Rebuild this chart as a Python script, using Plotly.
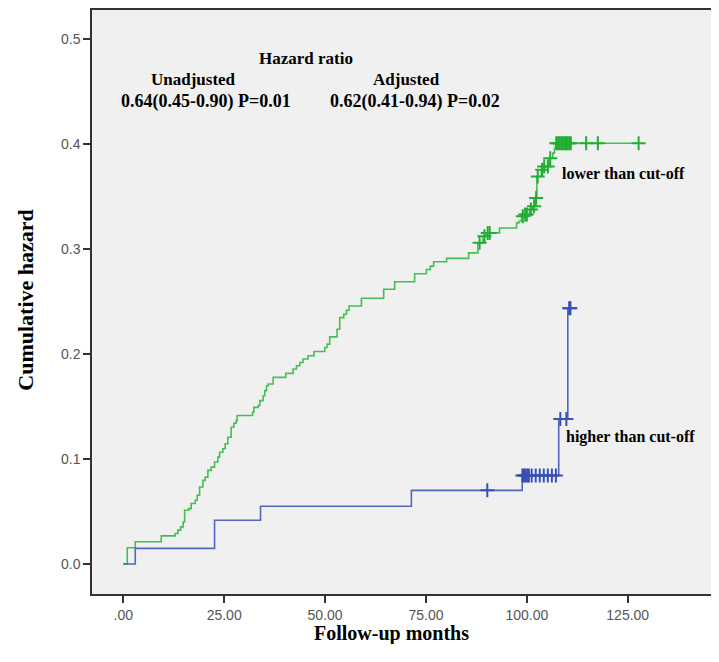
import numpy as np
import plotly.graph_objects as go

# ---------------- data ----------------
# lower than cut-off (green): event times (months) and cumulative hazard after each event
low_times = [0.99, 2.97, 9.41, 12.87, 13.54, 14.21, 14.85, 15.20, 16.19, 16.83, 17.82, 18.32,
             18.91, 19.73, 20.30, 20.96, 21.78, 22.62, 23.44, 23.86, 24.68, 25.25, 25.92, 26.73,
             27.40, 27.97, 28.22, 32.03, 32.35, 33.42, 33.84, 34.65, 35.07, 35.50, 35.89, 37.13,
             40.27, 42.08, 42.92, 43.74, 44.55, 45.79, 47.28, 49.93, 50.50, 51.16, 52.97, 53.64,
             54.63, 55.30, 55.94, 59.01, 64.53, 67.25, 72.20, 75.10, 76.09, 76.91, 80.12, 85.57,
             87.87, 89.11, 89.95, 93.24, 97.45, 98.02, 98.69, 99.43, 100.67, 101.34, 102.15,
             102.48, 103.56, 103.96, 105.62, 106.44, 106.86, 107.10]
low_hazard = [0.0155, 0.0212, 0.0268, 0.0291, 0.0323, 0.0354, 0.0401, 0.0512, 0.0528, 0.0576,
              0.0607, 0.0655, 0.0733, 0.0797, 0.0828, 0.0892, 0.0923, 0.0971, 0.1018, 0.1065,
              0.1098, 0.1145, 0.1208, 0.1303, 0.1341, 0.1366, 0.1414, 0.1445, 0.1492, 0.1509,
              0.1556, 0.1603, 0.1651, 0.1698, 0.1714, 0.1777, 0.1815, 0.1857, 0.1888, 0.1919,
              0.1952, 0.1983, 0.2024, 0.2062, 0.2094, 0.2163, 0.2236, 0.2346, 0.2379, 0.2417,
              0.2457, 0.2530, 0.2616, 0.2688, 0.2764, 0.2805, 0.2837, 0.2878, 0.2910, 0.2963,
              0.3058, 0.3121, 0.3153, 0.3200, 0.3248, 0.3264, 0.3311, 0.3327, 0.3375, 0.3406,
              0.3485, 0.3690, 0.3754, 0.3786, 0.3864, 0.3912, 0.3959, 0.4007]
low_end = 127.7
low_censored = [88.3, 89.5, 90.3, 90.8, 99.0, 99.6, 100.0, 101.0, 101.8, 102.3, 102.7, 103.8,
                104.3, 105.2, 105.8, 107.3, 107.7, 108.1, 108.5, 108.9, 109.3, 109.7, 110.1,
                110.5, 110.9, 114.7, 117.6, 127.7]

# higher than cut-off (blue)
high_times = [2.97, 22.62, 34.01, 71.39, 98.86, 107.9, 110.15]
high_hazard = [0.0149, 0.0417, 0.0550, 0.0702, 0.0844, 0.1382, 0.2435]
high_end = 110.8
high_censored = [90.2, 98.9, 99.3, 99.7, 100.1, 100.5, 101.2, 102.2, 103.2, 104.2, 105.2,
                 106.2, 107.2, 108.3, 109.8, 110.5, 110.8]

x_tickvals = [0, 25, 50, 75, 100, 125]
x_ticktext = [".00", "25.00", "50.00", "75.00", "100.00", "125.00"]
y_tickvals = [0.0, 0.1, 0.2, 0.3, 0.4, 0.5]
y_ticktext = ["0.0", "0.1", "0.2", "0.3", "0.4", "0.5"]

GREEN = "#45c050"
GREEN_DARK = "#22ad35"
BLUE = "#5066bf"
BLUE_DARK = "#3850b3"


def step_series(times, hazard, end):
    xs = [0.0] + list(times) + [end]
    ys = [0.0] + list(hazard) + [hazard[-1]]
    return xs, ys


def level_at(times, hazard, t):
    idx = np.searchsorted(np.array(times), np.array(t), side="right") - 1
    h = np.array([0.0] + list(hazard))
    return h[idx + 1]


fig = go.Figure()

gx, gy = step_series(low_times, low_hazard, low_end)
fig.add_trace(go.Scatter(x=gx, y=gy, mode="lines", line=dict(color=GREEN, width=1.6, shape="hv"),
                         showlegend=False, hoverinfo="skip"))
fig.add_trace(go.Scatter(x=low_censored, y=level_at(low_times, low_hazard, low_censored),
                         mode="markers",
                         marker=dict(symbol="cross-thin", size=10,
                                     line=dict(color=GREEN_DARK, width=2)),
                         showlegend=False, hoverinfo="skip"))

bx, by = step_series(high_times, high_hazard, high_end)
fig.add_trace(go.Scatter(x=bx, y=by, mode="lines", line=dict(color=BLUE, width=1.6, shape="hv"),
                         showlegend=False, hoverinfo="skip"))
fig.add_trace(go.Scatter(x=high_censored, y=level_at(high_times, high_hazard, high_censored),
                         mode="markers",
                         marker=dict(symbol="cross-thin", size=10,
                                     line=dict(color=BLUE_DARK, width=2)),
                         showlegend=False, hoverinfo="skip"))

serif_bold = dict(family="Liberation Serif", color="black")

annots = [
    ("<b>Hazard ratio</b>", 45.2, 0.481, "center", 17),
    ("<b>Unadjusted</b>", 17.5, 0.461, "center", 17),
    ("<b>Adjusted</b>", 70.2, 0.461, "center", 17),
    ("<b>0.64(0.45-0.90) P=0.01</b>", 20.5, 0.440, "center", 18),
    ("<b>0.62(0.41-0.94) P=0.02</b>", 72.2, 0.440, "center", 18),
    ("<b>lower than cut-off</b>", 108.3, 0.372, "left", 16),
    ("<b>higher than cut-off</b>", 109.1, 0.121, "left", 16),
]
for text, x, y, anchor, size in annots:
    fig.add_annotation(x=x, y=y, xref="x", yref="y", text=text, showarrow=False,
                       xanchor=anchor, yanchor="middle",
                       font=dict(size=size, **serif_bold))

# axis titles
fig.add_annotation(x=66.5, y=-0.067, xref="x", yref="paper", text="<b>Follow-up months</b>",
                   showarrow=False, xanchor="center", yanchor="middle",
                   font=dict(size=20, **serif_bold))
fig.add_annotation(x=-0.105, y=0.252, xref="paper", yref="y", text="<b>Cumulative hazard</b>",
                   showarrow=False, textangle=-90, xanchor="center", yanchor="middle",
                   font=dict(size=22, **serif_bold))

fig.update_layout(
    width=719, height=636,
    margin=dict(l=84, r=0, t=0, b=50),
    paper_bgcolor="white",
    plot_bgcolor="#f0f0f0",
    showlegend=False,
)
fig.update_xaxes(
    range=[-7.75, 149.6], showgrid=False, zeroline=False,
    showline=True, linecolor="#333333", linewidth=1.5, mirror=True,
    ticks="outside", ticklen=7, tickwidth=1.5, tickcolor="#333333",
    tickvals=x_tickvals, ticktext=x_ticktext,
    tickfont=dict(family="Liberation Sans", size=14, color="#555555"),
)
fig.update_yaxes(
    range=[-0.0285, 0.5275], showgrid=False, zeroline=False,
    showline=True, linecolor="#333333", linewidth=1.5, mirror=False,
    ticks="outside", ticklen=7, tickwidth=1.5, tickcolor="#333333",
    tickvals=y_tickvals, ticktext=y_ticktext,
    tickfont=dict(family="Liberation Sans", size=14, color="#555555"),
)

fig.write_html("out.html")
